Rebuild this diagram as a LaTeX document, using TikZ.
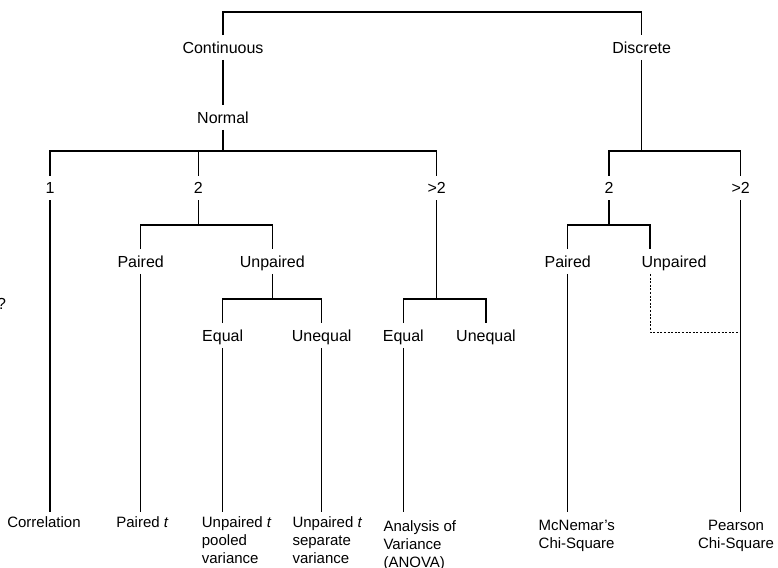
\documentclass[tikz,border=0pt]{standalone}
\usepackage{fontspec}
\setmainfont{Liberation Sans}
\begin{document}
\begin{tikzpicture}[x=1pt,y=-1pt,
  link/.style={line width=1.1pt},
  dashlink/.style={line width=1pt,dash pattern=on 2pt off 1.6pt},
  lab/.style={font=\fontsize{16}{19}\selectfont,inner xsep=1pt,inner ysep=6.5pt,
    text height=11.5pt,text depth=0pt},
  leaf/.style={font=\fontsize{15}{18}\selectfont,inner xsep=0pt,inner ysep=4.5pt,align=left}]
\useasboundingbox (0,0) rectangle (778,567);

% decision labels
\node[lab] (cont) at (223,47.5) {Continuous};
\node[lab] (disc) at (641.7,47.5) {Discrete};
\node[lab] (norm) at (223,117.5) {Normal};
\node[lab] (c1) at (50,188) {1};
\node[lab] (c2) at (198.3,188) {2};
\node[lab] (c3) at (436.7,188) {>2};
\node[lab] (d2) at (609,188) {2};
\node[lab] (d3) at (740.7,188) {>2};
\node[lab] (cp) at (140.7,261.5) {Paired};
\node[lab] (cu) at (272.3,261.5) {Unpaired};
\node[lab] (dp) at (567.7,261.5) {Paired};
\node[lab] (du) at (674,261.5) {Unpaired};
\node[lab] (ce) at (222.7,335.5) {Equal};
\node[lab] (cn) at (321.7,335.5) {Unequal};
\node[lab] (ae) at (403.3,335.5) {Equal};
\node[lab] (an) at (486,335.5) {Unequal};
\node[lab] (q) at (1.5,304) {?};

% tests at the leaves
\node[leaf,anchor=north] (corr) at (44,512.3) {Correlation};
\node[leaf,anchor=north] (pt) at (142.5,512.3) {Paired \textit{t}};
\node[leaf,anchor=north west] (pool) at (201.7,512.3) {Unpaired \textit{t}\\pooled\\variance};
\node[leaf,anchor=north west] (sep) at (292.3,512.3) {Unpaired \textit{t}\\separate\\variance};
\node[leaf,anchor=north west,inner ysep=7.7pt] (anova) at (383.3,512.3) {Analysis of\\Variance\\(ANOVA)};
\node[leaf,anchor=north west,inner ysep=7.7pt] (mcn) at (538.5,512.3) {McNemar’s\\Chi-Square};
\node[leaf,anchor=north,align=center,inner ysep=7.7pt] (pear) at (736,512.3) {Pearson\\Chi-Square};

% junction points of the branches
\coordinate (top) at (432,12);
\coordinate (nj) at (223,151);
\coordinate (dj) at (641.7,151);
\coordinate (c2j) at (198.3,225);
\coordinate (cuj) at (272.3,299);
\coordinate (c3j) at (436.7,299);
\coordinate (d2j) at (609,225);
\coordinate (dm) at (740.7,332);

% branches
\draw[link] (cont.north) |- (top) -| (disc.north);
\draw[link] (cont.south) -- (norm.north);
\draw[link] (norm.south) -- (nj);
\draw[link] (c1.north) |- (nj) -| (c3.north);
\draw[link] (c2.north) -- (c2.north |- nj);
\draw[line width=1.6pt] (99,151) -- (125,151);
\draw[link] (disc.south) -- (dj);
\draw[link] (d2.north) |- (dj) -| (d3.north);
\draw[link] (c2.south) -- (c2j);
\draw[link] (cp.north) |- (c2j) -| (cu.north);
\draw[link] (cu.south) -- (cuj);
\draw[link] (ce.north) |- (cuj) -| (cn.north);
\draw[link] (c3.south) -- (c3j);
\draw[link] (ae.north) |- (c3j) -| (an.north);
\draw[link] (d2.south) -- (d2j);
\draw[link] (dp.north) |- (d2j) -| ([xshift=-24pt]du.north);

% stems down to the tests
\draw[link] (c1.south) -- (c1.south |- corr.north);
\draw[link] (cp.south) -- (cp.south |- pt.north);
\draw[link] (ce.south) -- (ce.south |- pool.north);
\draw[link] (cn.south) -- (cn.south |- sep.north);
\draw[link] (ae.south) -- (ae.south |- anova.north);
\draw[link] (dp.south) -- (dp.south |- mcn.north);
\draw[link] (d3.south) -- (d3.south |- pear.north);
\draw[dashlink] ([xshift=-24pt]du.south) |- (dm);
\end{tikzpicture}
\end{document}
